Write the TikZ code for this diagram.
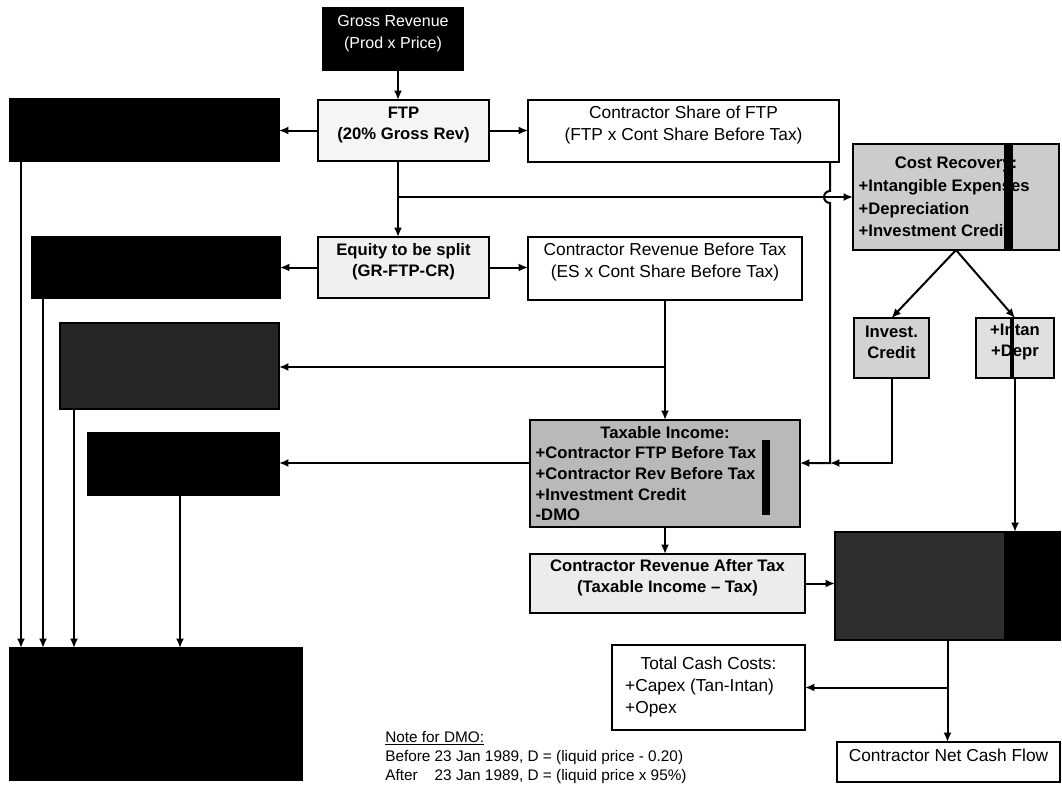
\documentclass[tikz,border=0pt]{standalone}
\usepackage{fontspec}
\setmainfont{Liberation Sans}
\usetikzlibrary{arrows.meta,fit}
\newcommand\mkbox[7]{\node[#6,fit={(#2,#3) (#4,#5)}] (#1) {#7};}
% a block whose first line is centred and whose other lines are flush left
\newcommand\listblock[3]{\vbox{\hsize=#1\parskip=0pt\centering #2\par\raggedright #3\par}}
\begin{document}
\begin{tikzpicture}[x=0.75pt,y=-0.75pt,
  bxbase/.style={rectangle,draw=black,line width=1.8pt,inner sep=0pt,outer sep=0pt},
  bx/.style={bxbase,align=center},
  blk/.style={bx,fill=black},
  regtxt/.style={font=\fontsize{13}{16.5}\selectfont},
  boldtxt/.style={font=\fontsize{12.5}{15.5}\selectfont\bfseries},
  inner/.style={inner sep=0pt,outer sep=0pt,anchor=center},
  conn/.style={draw=black,line width=1.5pt,-{Latex[length=7pt,width=6pt]}},
  band/.style={fill=black},
]
\useasboundingbox (0,0) rectangle (1062,796);

% ---- boxes ----
\mkbox{gr}{323}{8}{463}{70}{blk,text=white,font=\fontsize{12}{16}\selectfont}{Gross Revenue\\(Prod x Price)}
\mkbox{b1}{10}{99}{279}{161}{blk}{}
\mkbox{ftp}{318}{100}{489}{161}{bx,boldtxt,fill=gray!8}{FTP\\(20\% Gross Rev)}
\mkbox{cs}{528}{100}{839}{162}{bx,regtxt,fill=white}{Contractor Share of FTP\\(FTP x Cont Share Before Tax)}
\mkbox{cr}{853}{144}{1059}{250}{bxbase,fill=gray!40,
  path picture={\fill[band] ([xshift=113.25pt]path picture bounding box.north west) rectangle ([xshift=120pt]path picture bounding box.south west);}}{}
\node[inner,font=\fontsize{12.5}{17}\selectfont\bfseries] (crtext) at (cr.center)
  {\listblock{146pt}{Cost Recovery:}{+Intangible Expenses\\+Depreciation\\+Investment Credit}};
\mkbox{b2}{32}{237}{280}{298}{blk}{}
\mkbox{eq}{318}{237}{489}{298}{bx,boldtxt,fill=gray!12}{Equity to be split\\(GR-FTP-CR)}
\mkbox{crbt}{528}{237}{802}{300}{bx,regtxt,fill=white}{Contractor Revenue Before Tax\\(ES x Cont Share Before Tax)}
\mkbox{b3}{60}{323}{279}{409}{blk,fill=black!85}{}
\mkbox{ic}{854}{318}{929}{378}{bx,boldtxt,fill=gray!35}{Invest.\\Credit}
\mkbox{in}{976}{318}{1054}{378}{bx,boldtxt,fill=gray!25,
  path picture={\fill[band] ([xshift=25.5pt]path picture bounding box.north west) rectangle ([xshift=28.5pt]path picture bounding box.south west);}}
  {+Intan\\+Depr}
\mkbox{b4}{88}{433}{279}{495}{blk}{}
\mkbox{ti}{530}{420}{800}{527}{bxbase,fill=gray!55,
  path picture={\fill[band] ([shift={(174pt,-15pt)}]path picture bounding box.north west) rectangle ([shift={(180pt,-71pt)}]path picture bounding box.north west);}}{}
\node[inner,font=\fontsize{12.5}{15.5}\selectfont\bfseries] (titext) at (ti.center)
  {\listblock{194pt}{Taxable Income:}{+Contractor FTP Before Tax\\+Contractor Rev Before Tax\\+Investment Credit\\-DMO}};
\mkbox{crat}{530}{554}{805}{613}{bx,boldtxt,fill=gray!15}{Contractor Revenue After Tax\\(Taxable Income -- Tax)}
\mkbox{dk}{835}{532}{1060}{640}{bx,fill=black!82,
  path picture={\fill[band] ([xshift=126.75pt]path picture bounding box.north west) rectangle (path picture bounding box.south east);}}{}
\mkbox{tcc}{612}{645}{805}{730}{bxbase,fill=white}{}
\node[inner,font=\fontsize{13}{16.5}\selectfont] (tcctext) at (tcc.center)
  {\listblock{125pt}{Total Cash Costs:}{+Capex (Tan-Intan)\\+Opex}};
\mkbox{ncf}{837}{742}{1060}{782}{bx,regtxt,fill=white}{Contractor Net Cash Flow}
\mkbox{bot}{10}{648}{302}{780}{blk}{}

\node[anchor=north west,align=left,inner sep=0pt,font=\fontsize{11.5}{14.2}\selectfont] (note) at (385,731)
  {\underline{Note for DMO:}\\Before 23 Jan 1989, D = (liquid price - 0.20)\\\rlap{After}\phantom{Before} 23 Jan 1989, D = (liquid price x 95\%)};

% ---- helper coordinates ----
\coordinate (vx) at (398,0);
\coordinate (r1) at (398,197);
\coordinate (hv) at (830,0);
\coordinate (t1) at (830,463);
\coordinate (y367) at (0,367);
\coordinate (c21) at (21,0);
\coordinate (c43) at (43,0);
\coordinate (c74) at (74,0);
\coordinate (c180) at (180,0);

% ---- connectors ----
\draw[conn] (gr.south -| vx) -- (ftp.north -| vx);
\draw[conn] (ftp.west) -- (ftp.west -| b1.east);
\draw[conn] (ftp.east) -- (ftp.east -| cs.west);
\draw[conn] (ftp.south -| vx) -- (eq.north -| vx);
\draw[conn] (r1) -- (r1 -| cr.west);
\draw[conn] (cs.south -| hv) -- (830,191) arc[start angle=270,end angle=90,radius=6] -- (t1) -- (t1 -| ti.east);
\draw[conn] (ic.south) -- (ic.south |- t1) -- (t1);
\draw[conn] (cr.south) -- (ic.north);
\draw[conn] (cr.south) -- (in.north);
\draw[conn] (in.south) -- (in.south |- dk.north);
\draw[conn] (eq.west) -- (eq.west -| b2.east);
\draw[conn] (eq.east) -- (eq.east -| crbt.west);
\draw[conn] (crbt.south) -- (crbt.south |- ti.north);
\draw[conn] (crbt.south |- y367) -- (b3.east |- y367);
\draw[conn] (ti.west |- t1) -- (b4.east |- t1);
\draw[conn] (ti.south) -- (ti.south |- crat.north);
\draw[conn] (crat.east) -- (crat.east -| dk.west);
\draw[conn] (dk.south) -- (dk.south |- ncf.north);
\draw[conn] (tcc.east -| dk.south) -- (tcc.east);
\draw[conn] (b1.south -| c21) -- (bot.north -| c21);
\draw[conn] (b2.south -| c43) -- (bot.north -| c43);
\draw[conn] (b3.south -| c74) -- (bot.north -| c74);
\draw[conn] (b4.south -| c180) -- (bot.north -| c180);
\end{tikzpicture}
\end{document}
